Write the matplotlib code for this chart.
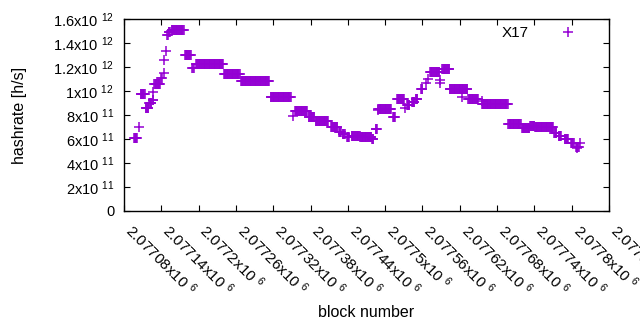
import numpy as np
import matplotlib
matplotlib.use("Agg")
import matplotlib.pyplot as plt
from matplotlib.lines import Line2D

plt.rcParams['font.family'] = ['Liberation Sans', 'DejaVu Sans']
plt.rcParams['mathtext.default'] = 'regular'

base_block = 2077080

# runs of blocks with the same estimate: first block offset, last block offset, hashrate
seg_start = [16, 24, 27, 35, 41, 46, 47, 49, 60, 64, 65, 67, 69, 72, 77, 98, 110, 116, 161, 188,
             236, 272, 275, 297, 308, 333, 346, 352, 359, 366, 380, 399, 405, 408, 409, 433, 439, 452,
             455, 463, 469, 478, 486, 489, 492, 508, 508, 512, 524, 544, 554, 575, 576, 618, 640, 653,
             661, 692, 699, 709, 719, 727, 729, 733]
seg_end = [21, 24, 33, 39, 44, 47, 47, 58, 61, 64, 65, 67, 70, 74, 96, 107, 112, 159, 186, 233,
           268, 272, 294, 306, 328, 343, 349, 355, 362, 379, 398, 401, 407, 408, 429, 436, 450, 452,
           459, 467, 472, 480, 486, 489, 507, 508, 508, 523, 552, 544, 569, 575, 617, 638, 652, 660,
           690, 695, 703, 714, 723, 731, 729, 733]
seg_val = [6.05e11, 7.0e11, 9.72e11, 8.55e11, 8.97e11, 9.25e11, 9.94e11, 1.056e12, 1.106e12, 1.153e12,
           1.256e12, 1.336e12, 1.47e12, 1.494e12, 1.506e12, 1.297e12, 1.194e12, 1.222e12, 1.142e12, 1.081e12,
           9.47e11, 7.94e11, 8.31e11, 7.86e11, 7.47e11, 6.97e11, 6.61e11, 6.42e11, 6.19e11, 6.25e11,
           6.14e11, 5.97e11, 6.81e11, 8.4e11, 8.53e11, 7.86e11, 9.31e11, 8.56e11, 8.83e11, 9.11e11,
           9.33e11, 1.014e12, 1.069e12, 1.097e12, 1.156e12, 1.092e12, 1.07e12, 1.181e12, 1.014e12, 9.47e11,
           9.31e11, 9.17e11, 8.92e11, 7.23e11, 6.89e11, 7.12e11, 7.0e11, 6.47e11, 6.25e11, 5.97e11,
           5.69e11, 5.36e11, 5.22e11, 5.67e11]

x_ticks = [base_block + 60 * i for i in range(14)]
x_labels = ['2.07708', '2.07714', '2.0772', '2.07726', '2.07732', '2.07738', '2.07744',
            '2.0775', '2.07756', '2.07762', '2.07768', '2.07774', '2.0778', '2.07786']
y_ticks = [0, 2e11, 4e11, 6e11, 8e11, 1e12, 1.2e12, 1.4e12, 1.6e12]
y_labels = ['0', '2x10 $^{11}$', '4x10 $^{11}$', '6x10 $^{11}$', '8x10 $^{11}$',
            '1x10 $^{12}$', '1.2x10 $^{12}$', '1.4x10 $^{12}$', '1.6x10 $^{12}$']

# expand runs into one point per block
blocks = []
rates = []
for s, e, v in zip(seg_start, seg_end, seg_val):
    for b in range(s, e + 1):
        blocks.append(base_block + b)
        rates.append(v)

color = '#9400D3'
fig = plt.figure(figsize=(6.4, 3.3), dpi=100)
ax = fig.add_axes([124/640, 1 - 211/330, (609-124)/640, (211-19)/330])
ax.plot(blocks, rates, linestyle='none', marker='+', markersize=6.5, markeredgewidth=1.1, color=color)

ax.set_xlim(x_ticks[0], x_ticks[-1])
ax.set_ylim(0, 1.6e12)
ax.set_xticks(x_ticks)
ax.set_xticklabels([l + 'x10 $^{6}$' for l in x_labels], rotation=-45, ha='left', va='baseline',
                   rotation_mode='anchor', fontsize=11)
ax.set_yticks(y_ticks)
ax.set_yticklabels(y_labels, fontsize=10.5)
ax.tick_params(direction='in', length=4.5, width=0.8, top=True, right=True)
ax.tick_params(axis='x', pad=15)
ax.tick_params(axis='y', pad=7)
for sp in ax.spines.values():
    sp.set_linewidth(1.0)

ax.set_xlabel('block number', fontsize=11.5)
ax.xaxis.set_label_coords(0.5, -0.49)
ax.set_ylabel('hashrate [h/s]', fontsize=11.5, labelpad=19)

handle = Line2D([], [], linestyle='none', marker='+', markersize=6.5, markeredgewidth=1.1, color=color)
ax.legend([handle], ['X17'], loc='upper right', bbox_to_anchor=(1 - 13/485, 1 + 2/192),
          markerfirst=False, frameon=False, fontsize=11,
          handlelength=2.5, handletextpad=1.3, borderaxespad=0.2)

fig.savefig('out.png', dpi=100)
